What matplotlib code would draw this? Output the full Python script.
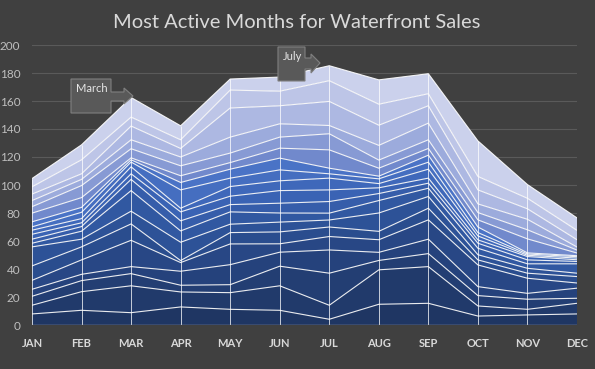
import matplotlib
matplotlib.use("Agg")
import matplotlib.pyplot as plt
import numpy as np
from matplotlib.patches import Polygon
from matplotlib.colors import LinearSegmentedColormap

months = ["JAN", "FEB", "MAR", "APR", "MAY", "JUN", "JUL", "AUG", "SEP", "OCT", "NOV", "DEC"]
title = "Most Active Months for Waterfront Sales"
yticks = [0, 20, 40, 60, 80, 100, 120, 140, 160, 180, 200]

s01 = [7.9, 10.5, 8.8, 12.9, 11.2, 10.5, 4.1, 14.8, 15.5, 6.4, 7.2, 7.9]
s02 = [6.2, 13.3, 19.2, 10.7, 11.9, 17.5, 10.0, 24.6, 26.2, 7.2, 4.0, 7.6]
s03 = [6.4, 7.9, 8.7, 4.8, 5.7, 14.0, 22.9, 6.7, 9.3, 7.4, 7.2, 3.6]
s04 = [5.0, 4.5, 5.0, 10.0, 14.3, 10.0, 16.6, 5.8, 10.3, 6.4, 4.2, 7.2]
s05 = [6.4, 10.3, 18.8, 6.2, 14.8, 6.0, 9.6, 9.0, 13.8, 15.5, 10.8, 3.7]
s06 = [10.3, 9.3, 11.7, 1.4, 8.1, 8.5, 6.8, 6.0, 8.3, 3.6, 3.6, 4.6]
s07 = [13.6, 5.5, 9.1, 13.1, 6.0, 7.0, 5.0, 13.1, 8.4, 3.7, 3.5, 2.4]
s08 = [2.6, 5.7, 14.7, 8.1, 8.8, 6.5, 4.9, 8.9, 5.9, 4.6, 3.2, 6.7]
s09 = [2.9, 3.3, 8.0, 7.2, 5.2, 7.0, 8.3, 5.0, 3.6, 3.6, 2.8, 1.7]
s10 = [3.5, 2.7, 4.0, 6.4, 6.0, 9.0, 8.3, 4.1, 3.6, 2.4, 2.4, 1.2]
s11 = [2.9, 3.0, 5.0, 2.6, 6.9, 7.0, 8.4, 3.0, 6.4, 2.8, 0.9, 1.2]
s12 = [2.4, 4.5, 3.4, 13.1, 6.0, 7.8, 3.1, 3.4, 5.0, 2.4, 0.9, 1.0]
s13 = [3.6, 3.5, 1.6, 5.3, 6.4, 8.4, 4.0, 1.9, 5.0, 4.0, 0.8, 0.7]
s14 = [6.2, 7.0, 1.4, 4.8, 4.7, 7.1, 13.1, 5.7, 4.8, 5.1, 10.0, 1.9]
s15 = [4.6, 8.6, 6.5, 7.1, 6.8, 7.9, 11.5, 5.8, 6.2, 5.2, 6.5, 2.1]
s16 = [4.4, 4.4, 6.4, 6.3, 11.4, 9.5, 5.9, 10.5, 11.9, 6.2, 7.5, 2.2]
s17 = [4.6, 4.0, 9.8, 6.1, 20.8, 12.9, 17.2, 14.4, 12.4, 10.0, 7.5, 5.2]
s18 = [5.2, 10.0, 6.4, 6.2, 12.8, 10.4, 14.8, 15.0, 8.6, 9.6, 7.5, 6.7]
s19 = [5.9, 10.7, 14.0, 10.0, 7.9, 10.1, 10.7, 17.4, 14.3, 25.4, 9.8, 8.9]

series = [s01, s02, s03, s04, s05, s06, s07, s08, s09, s10,
          s11, s12, s13, s14, s15, s16, s17, s18, s19]

callouts = [("March", 2), ("July", 6)]

BG = "#404040"
W, H = 595, 369
fig = plt.figure(figsize=(W / 100, H / 100), dpi=100, facecolor=BG)
ax = fig.add_axes([32 / W, 1 - 325 / H, (577 - 32) / W, (325 - 45) / H])
ax.set_facecolor(BG)

x = np.arange(len(months))
blue_cmap = LinearSegmentedColormap.from_list(
    "b", ["#1f3663", "#25427c", "#2d5297", "#3a63b4", "#4a73c6"])
lav_cmap = LinearSegmentedColormap.from_list(
    "l", ["#7189cc", "#96a6da", "#b3bde4", "#cbd1ec"])
n_blue = 13
colors = [blue_cmap(i / (n_blue - 1)) for i in range(n_blue)] + \
         [lav_cmap(i / (len(series) - n_blue - 1)) for i in range(len(series) - n_blue)]

for y in yticks[1:]:
    ax.axhline(y, color="#5a5a5a", lw=0.8, zorder=0)

polys = ax.stackplot(x, *series, colors=colors, edgecolor="none", zorder=2)
cum = np.cumsum(np.array(series), axis=0)
for row in cum:
    ax.plot(x, row, color="white", lw=0.8, alpha=0.9, zorder=3)
ax.vlines(x, 0, cum[-1], color="white", lw=0.7, alpha=0.75, zorder=3)
ax.axhline(0, color="#a6a6a6", lw=1.0, zorder=4)

ax.set_xlim(0, len(months) - 1)
ax.set_ylim(0, 200)
ax.set_xticks(x)
ax.set_xticklabels(months, fontweight="bold", fontsize=8, color="#d9d9d9")
ax.set_yticks(yticks)
ax.set_yticklabels([str(v) for v in yticks], fontsize=8.5, color="#bfbfbf")
ax.tick_params(axis="both", length=0)
ax.tick_params(axis="x", pad=9.5)
ax.tick_params(axis="y", pad=8.5)
for sp in ax.spines.values():
    sp.set_visible(False)
for lab in ax.get_xticklabels() + ax.get_yticklabels():
    lab.set_family(["Lato", "DejaVu Sans"])

fig.text(297 / W, 1 - 22 / H, title, ha="center", va="center",
         fontsize=14.5, color="#d9d9d9", family=["Lato", "DejaVu Sans"])


def px(pts):
    return [(a / W, 1 - b / H) for a, b in pts]


# callout shapes (image pixel coordinates)
shapes = {
    "March": dict(box=(71, 79, 111, 113), stem=(92, 101, 124), head=(88, 104, 133, 96), text=(76, 89)),
    "July": dict(box=(278, 47, 305, 81), stem=(58, 69, 311), head=(54, 73, 320, 63), text=(283, 57)),
}
for label, idx in callouts:
    s = shapes[label]
    x0, y0, x1, y1 = s["box"]
    st0, st1, sx = s["stem"]
    h0, h1, tx, ty = s["head"]
    pts = [(x0, y0), (x1, y0), (x1, st0), (sx, st0), (sx, h0), (tx, ty), (sx, h1),
           (sx, st1), (x1, st1), (x1, y1), (x0, y1)]
    fig.patches.append(Polygon(px(pts), closed=True, transform=fig.transFigure,
                               facecolor="#595959", edgecolor="#808080", lw=0.8, zorder=10))
    fig.text(s["text"][0] / W, 1 - s["text"][1] / H, label, ha="left", va="center",
             fontsize=8, color="#e6e6e6", family=["Lato", "DejaVu Sans"], zorder=11)

fig.savefig("out.png", dpi=100, facecolor=BG)
